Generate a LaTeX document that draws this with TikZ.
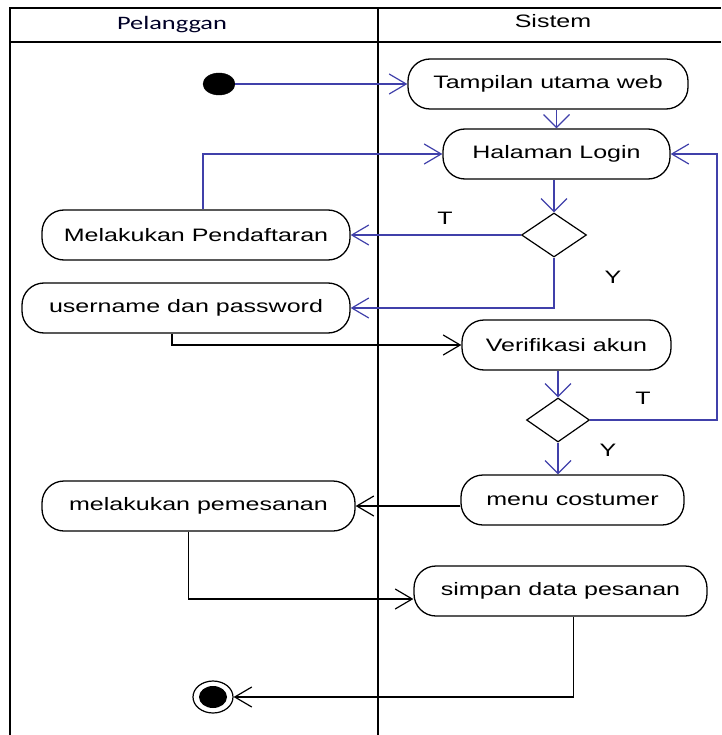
\documentclass[tikz,border=0pt]{standalone}
\usepackage{fontspec}
\setmainfont{Liberation Sans}
\newfontfamily\dfont[FakeStretch=1.39]{Liberation Sans}
\newfontfamily\hfont[FakeStretch=1.39]{Carlito}
\usetikzlibrary{shapes.geometric,arrows.meta}
\definecolor{lblue}{RGB}{64,64,170}
\begin{document}
\begin{tikzpicture}[x=1pt,y=-1pt,
 act/.style={draw=black, line width=1.3pt, rounded corners=22pt, minimum height=50pt, inner sep=0pt, font=\dfont\fontsize{18}{20}\selectfont},
 dec/.style={draw=black, line width=1.2pt, diamond, minimum width=65pt, minimum height=44pt, inner sep=0pt},
 bl/.style={draw=lblue, line width=1.2pt},
 bk/.style={draw=black, line width=1.2pt},
 ha/.style={-{Straight Barb[length=17pt,width=20pt]}},
 va/.style={-{Straight Barb[length=13pt,width=26pt]}},
 lbl/.style={font=\dfont\fontsize{18}{20}\selectfont, inner sep=0pt},
]
\path[use as bounding box] (0,0) rectangle (721,735);
% frame
\draw[line width=1.4pt] (10,735) -- (10,8) -- (721,8);
\draw[line width=1.2pt] (10,42) -- (721,42);
\draw[line width=1.3pt] (378,8) -- (378,735);
\node[font=\hfont\fontsize{19}{20}\selectfont, text=black!85!blue, inner sep=0pt] (hp) at (172,25) {Pelanggan};
\node[lbl] (hs) at (553,21) {Sistem};
% nodes
\node[draw, ellipse, fill=black, minimum width=32pt, minimum height=22pt, inner sep=0pt] (start) at (219,84) {};
\node[act, minimum width=280pt] (tamp) at (548,84) {Tampilan utama web};
\node[act, minimum width=227pt] (login) at (556.5,154) {Halaman Login};
\node[dec] (d1) at (554,235) {};
\node[act, minimum width=308pt] (daftar) at (196,235) {Melakukan Pendaftaran};
\node[act, minimum width=328pt] (user) at (186,308) {username dan password};
\node[act, minimum width=209pt] (verif) at (566.5,345) {Verifikasi akun};
\node[dec, minimum width=63pt] (d2) at (558,420) {};
\node[act, minimum width=223pt] (menu) at (572.5,500) {menu costumer};
\node[act, minimum width=313pt] (pesan) at (198.5,506) {melakukan pemesanan};
\node[act, minimum width=293pt] (simpan) at (560.5,591) {simpan data pesanan};
\node[draw, ellipse, line width=1.2pt, minimum width=40pt, minimum height=32pt, inner sep=0pt] (endo) at (213,697) {};
\node[ellipse, fill=black, minimum width=28pt, minimum height=22pt, inner sep=0pt] (endi) at (213,697) {};
% labels
\node[lbl] (t1) at (445,218) {T};
\node[lbl] (y1) at (613,277) {Y};
\node[lbl] (t2) at (643,398) {T};
\node[lbl] (y2) at (608,450) {Y};
% edges
\draw[bl,ha] (start.east) -- (tamp.west);
\draw[bl,va] (tamp.south -| login.north) -- (login.north);
\draw[bl,va] (login.south -| d1.north) -- (d1.north);
\draw[bl,ha] (d1.west) -- (daftar.east);
\draw[bl,ha] (d1.south) |- (user.east);
\draw[bl,ha] ([xshift=7pt]daftar.north) |- (login.west);
\draw[bk,ha] ([xshift=-14pt]user.south) |- (verif.west);
\draw[bl,va] (verif.south -| d2.north) -- (d2.north);
\coordinate (rr) at (717,420);
\draw[bl,ha] (d2.east) -- (rr) |- (login.east);
\draw[bl,va] (d2.south) -- (d2.south |- menu.north);
\draw[bk,ha] (menu.west |- pesan.east) -- (pesan.east);
\draw[bk,ha] ([xshift=-10pt]pesan.south) |- ([yshift=-8pt]simpan.west);
\draw[bk,ha] ([xshift=13pt]simpan.south) |- (endo.east);
\end{tikzpicture}
\end{document}
